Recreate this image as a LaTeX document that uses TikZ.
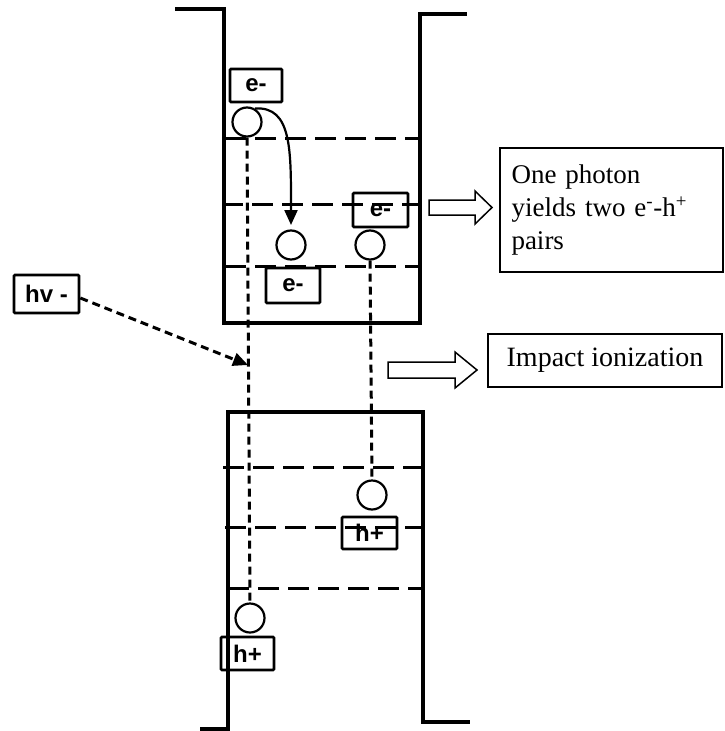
\documentclass[tikz,border=0pt]{standalone}
\usepackage{fontspec}
\setmainfont{Liberation Serif}
\setsansfont{Liberation Sans}
\usetikzlibrary{arrows.meta}
\begin{document}
\begin{tikzpicture}[x=1pt,y=-1pt,
  wall/.style={line width=3.6pt},
  level/.style={line width=3pt, dash pattern=on 21pt off 9pt},
  vdash/.style={line width=3pt, dash pattern=on 8pt off 5pt},
  lbl/.style={draw, line width=2.6pt, rounded corners=1pt, font=\sffamily\bfseries\fontsize{24}{26}\selectfont, inner sep=0pt},
  circ/.style={draw, circle, line width=2.2pt, minimum size=29pt, inner sep=0pt},
  tbox/.style={draw, line width=1.5pt, inner sep=0pt},
  hollow/.style={draw, line width=1.5pt, line join=miter}
]
\useasboundingbox (0,0) rectangle (725,731);

% band walls
\draw[wall] (175,9) -- (224,9) -- (224,323) -- (420,323) -- (420,14) -- (467,14);
\draw[wall] (200,729) -- (228,729) -- (228,412) -- (423,412) -- (423,722) -- (470,722);

% energy levels
\draw[level] (225,138) -- (419,138);
\draw[level] (222,204) -- (419,204);
\draw[level] (225,266) -- (419,266);
\draw[level] (223,467) -- (423,467);
\draw[level] (225,527) -- (423,527);
\draw[level] (228,588) -- (423,588);

% carriers
\node[circ] (c1) at (247,122) {};
\node[circ] (c2) at (291,245) {};
\node[circ] (c3) at (370,245) {};
\node[circ] (c4) at (372,495) {};
\node[circ] (c5) at (250,618) {};

% labels
\node[lbl, minimum width=52pt, minimum height=33pt] (e1) at (256,85.5) {e-};
\node[lbl, minimum width=55pt, minimum height=34pt] (e2) at (380.5,210) {e-};
\node[lbl, minimum width=54pt, minimum height=35pt] (e3) at (293,285.5) {e-};
\node[lbl, minimum width=55pt, minimum height=32pt] (h1) at (369.5,533) {h+};
\node[lbl, minimum width=53pt, minimum height=33pt] (h2) at (247.5,653.5) {h+};
\node[lbl, minimum width=65pt, minimum height=38pt] (hv) at (46.5,294) {hv -};

% vertical dashed paths
\draw[vdash] (c1.south) -- (c5.north);
\draw[vdash] (c3.south) -- (c4.north);

% photon arrow
\coordinate (ptip) at (248,365);
\draw[vdash, -{Triangle[length=15pt,width=13pt]}] ([yshift=-4pt]hv.east) -- (ptip);

% impact ionization curved arrow
\coordinate (ctip) at (291,225);
\draw[line width=2.2pt, -{Triangle[length=15pt,width=13pt]}] (c1.60) .. controls (292,106) and (291,150) .. (ctip);

% hollow arrows
\draw[hollow] (429,200) -- (475,200) -- (475,191) -- (492,207.5) -- (475,224) -- (475,215) -- (429,215) -- cycle;
\draw[hollow] (388,362) -- (455,362) -- (455,352) -- (477,370) -- (455,388) -- (455,378) -- (388,378) -- cycle;

% text boxes
\node[tbox, font=\fontsize{27}{33}\selectfont, minimum width=223pt, minimum height=124pt, text width=200pt, align=left] (t1) at (611.5,210) {One photon\\yields two e\textsuperscript{-}-h\textsuperscript{+}\\pairs};
\node[tbox, font=\fontsize{28}{33}\selectfont, minimum width=234pt, minimum height=53pt] (t2) at (605,360.5) {Impact ionization};
\end{tikzpicture}
\end{document}
